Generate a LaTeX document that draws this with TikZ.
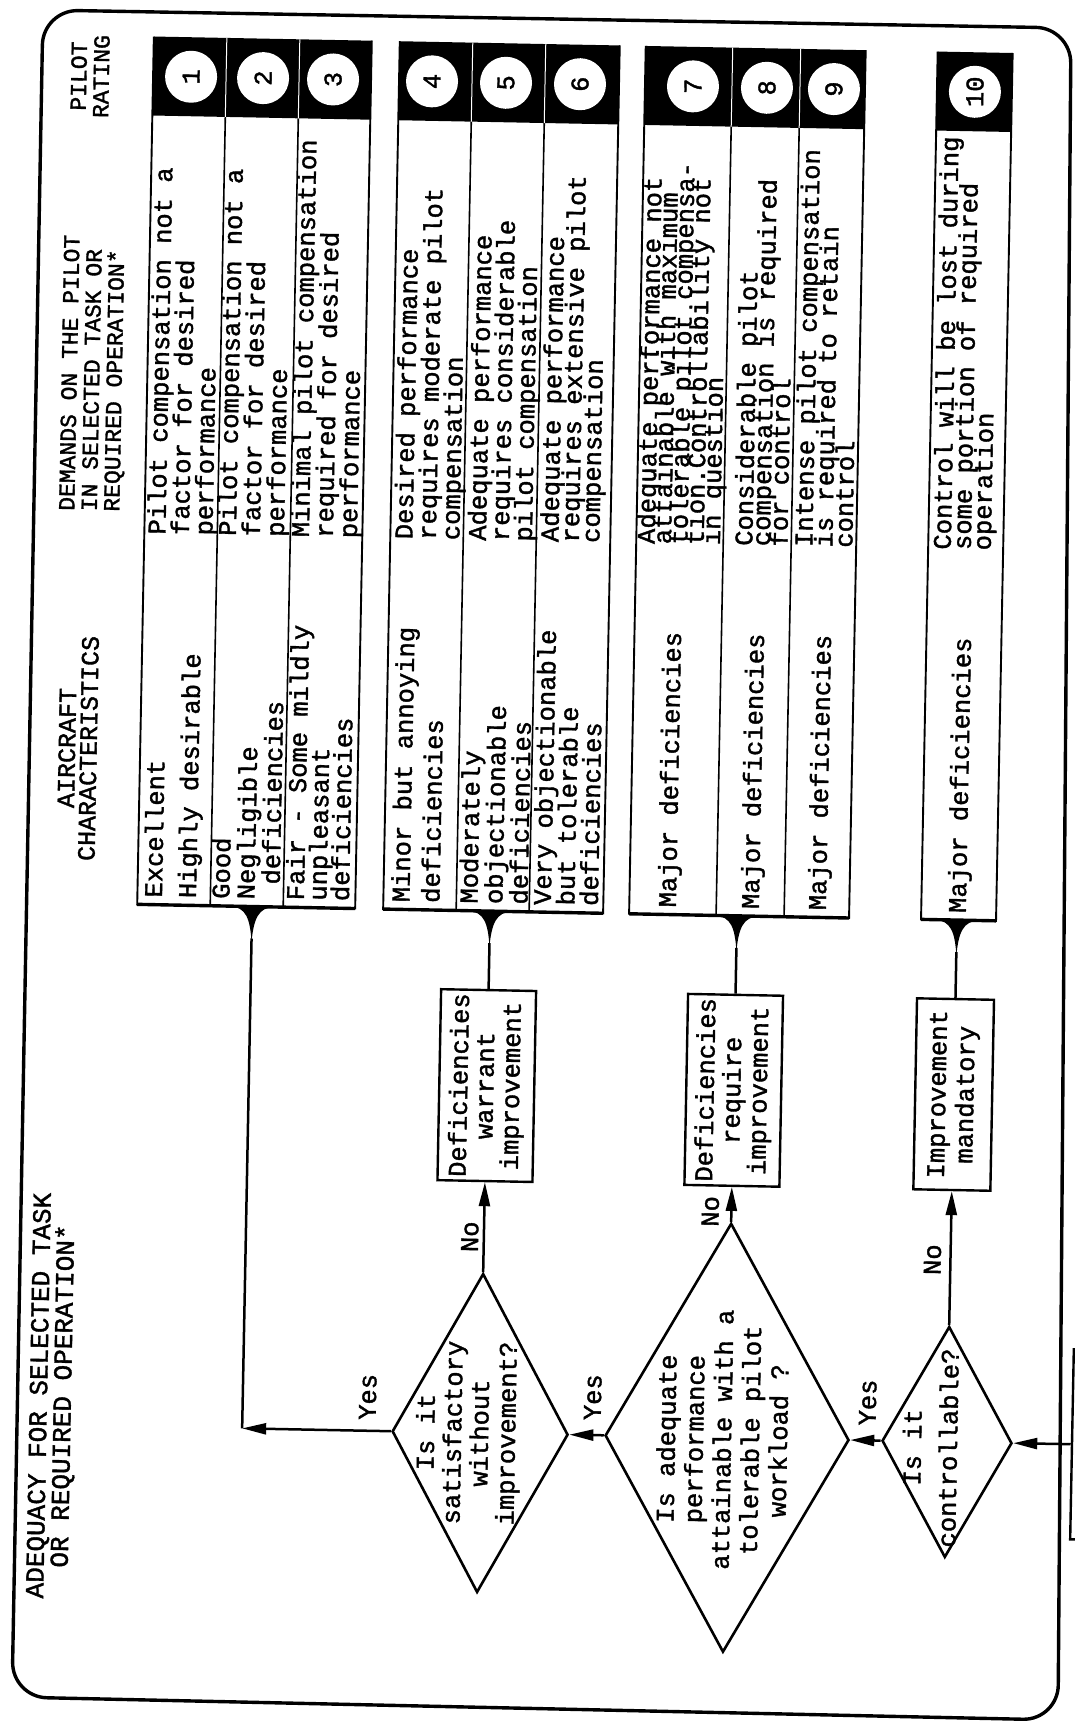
\documentclass[tikz,border=0pt]{standalone}
\usepackage{fontspec}
\usepackage{tikz}
\usetikzlibrary{positioning,shapes.geometric,arrows.meta}
\newfontfamily\typew{Liberation Mono}[FakeBold=1.5]
\newcommand{\cellfont}[1]{\typew\fontsize{25.5pt}{#1}\selectfont\lineskiplimit=-100pt\lineskip=0pt}
\tikzstyle{link}=[-, line width=2.5pt]
\tikzstyle{flow}=[-{Triangle[length=24pt,width=11pt]}, line width=2.5pt]
\tikzstyle{txt}=[rotate=90, inner sep=0pt, align=left, font=\cellfont{23pt}]
\tikzstyle{head}=[rotate=90, inner sep=0pt, font=\typew\fontsize{23pt}{22.5pt}\selectfont]
\tikzstyle{ask}=[diamond, draw, line width=2.6pt, inner sep=0pt]
\tikzstyle{verdict}=[rectangle, draw, line width=2.4pt, rotate=90, inner sep=0pt, align=center, minimum width=191pt]
\tikzstyle{rate}=[circle, fill=white, minimum size=52pt, inner sep=0pt, rotate=90, font=\cellfont{26pt}]
\tikzstyle{groupbox}=[line width=1.9pt]
\tikzstyle{rowline}=[line width=1.6pt]

\begin{document}
\begin{tikzpicture}[x=1pt, y=-1pt]
\useasboundingbox (0,0) rectangle (1075,1733);
\draw[line width=3.4pt, rounded corners=35pt] (43,10) -- (1071,28) -- (1058,1720) -- (12,1697) -- cycle;
\begin{scope}[rotate around={-1.1:(537,866)}, transform shape]

\node[head, align=center] (rating) at (75,85) {PILOT\\RATING};
\node[head, align=left, anchor=west] (demands) at (84.5,520) {DEMANDS ON THE PILOT\\IN SELECTED TASK OR\\REQUIRED OPERATION*};
\node[head, align=center, font=\typew\fontsize{25pt}{21.5pt}\selectfont] (aircraft) at (75.5,757) {AIRCRAFT\\CHARACTERISTICS};
\node[txt, align=center, font=\typew\fontsize{26pt}{24pt}\selectfont] (title) at (63,1405) {ADEQUACY FOR SELECTED TASK\\OR REQUIRED OPERATION*};

\fill (138,44) rectangle (356,123);
\draw[groupbox] (138,44) -- (138,912) -- (356,912) -- (356,44);
\draw[line width=3.4pt] (138,912) -- (356,912);
\draw[rowline] (211,123) -- (211,912);
\draw[rowline] (284,123) -- (284,912);
\draw[white, line width=1pt] (211,44) -- (211,123);
\draw[white, line width=1pt] (284,44) -- (284,123);
\node[rate] (r1) at (176,83.5) {1};
\node[rate] (r2) at (248,83.5) {2};
\node[rate] (r3) at (318,83.5) {3};

\fill (384,44) rectangle (604,123);
\draw[groupbox] (384,44) -- (384,912) -- (604,912) -- (604,44);
\draw[line width=3.4pt] (384,912) -- (604,912);
\draw[rowline] (457,123) -- (457,912);
\draw[rowline] (530,123) -- (530,912);
\draw[white, line width=1pt] (457,44) -- (457,123);
\draw[white, line width=1pt] (530,44) -- (530,123);
\node[rate] (r4) at (417,83.5) {4};
\node[rate] (r5) at (491,83.5) {5};
\node[rate] (r6) at (565,83.5) {6};

\fill (630,44) rectangle (850,123);
\draw[groupbox] (630,44) -- (630,912) -- (850,912) -- (850,44);
\draw[line width=3.4pt] (630,912) -- (850,912);
\draw[rowline] (717,123) -- (717,912);
\draw[rowline] (785,123) -- (785,912);
\draw[white, line width=1pt] (717,44) -- (717,123);
\draw[white, line width=1pt] (785,44) -- (785,123);
\node[rate] (r7) at (678,83.5) {7};
\node[rate] (r8) at (752,83.5) {8};
\node[rate] (r9) at (819,83.5) {9};

\fill (922,44) rectangle (997,123);
\draw[groupbox] (922,44) -- (922,912) -- (997,912) -- (997,44);
\draw[line width=3.4pt] (922,912) -- (997,912);
\node[rate] (r10) at (960,83.5) {10};

\node[txt, anchor=west, font=\cellfont{23.5pt}] (d1) at (176,542) {Pilot compensation not a\\factor for desired\\performance};
\node[txt, anchor=west, font=\cellfont{24pt}] (d2) at (247,542) {Pilot compensation not a\\factor for desired\\performance};
\node[txt, anchor=west, font=\cellfont{24pt}] (d3) at (320,542) {Minimal pilot compensation\\required for desired\\performance};
\node[txt, anchor=west, font=\cellfont{23.5pt}] (d4) at (423,542) {Desired performance\\requires moderate pilot\\compensation};
\node[txt, anchor=west, font=\cellfont{23pt}] (d5) at (496,542) {Adequate performance\\requires considerable\\pilot compensation};
\node[txt, anchor=west, font=\cellfont{20.5pt}] (d6) at (566,542) {Adequate performance\\requires extensive pilot\\compensation};
\node[txt, anchor=west, font=\cellfont{16.3pt}] (d7) at (674.5,542) {Adequate performance not\\attainable with maximum\\tolerable pilot compensa-\\tion.Controllability not\\in question};
\node[txt, anchor=west, font=\cellfont{17.5pt}] (d8) at (754.5,542) {Considerable pilot\\compensation is required\\for control};
\node[txt, anchor=west, font=\cellfont{20pt}] (d9) at (817,542) {Intense pilot compensation\\is required to retain\\control};
\node[txt, anchor=west, font=\cellfont{20pt}] (d10) at (958,542) {Control will be lost during\\some portion of required\\operation};

\node[txt, anchor=west, font=\cellfont{34pt}] (a1) at (173,905) {Excellent\\Highly desirable};
\node[txt, anchor=west, font=\cellfont{25pt}] (a2) at (246,905) {Good\\Negligible\\~deficiencies};
\node[txt, anchor=west, font=\cellfont{22.5pt}] (a3) at (318,905) {Fair - Some mildly\\unpleasant\\deficiencies};
\node[txt, anchor=west, font=\cellfont{30pt}] (a4) at (416,905) {Minor but annoying\\deficiencies};
\node[txt, anchor=west, font=\cellfont{25pt}] (a5) at (494,905) {Moderately\\objectionable\\deficiencies};
\node[txt, anchor=west, font=\cellfont{23.5pt}] (a6) at (566,905) {Very objectionable\\but tolerable\\deficiencies};
\node[txt, anchor=west] (a7) at (670,905) {Major deficiencies};
\node[txt, anchor=west] (a8) at (753,905) {Major deficiencies};
\node[txt, anchor=west] (a9) at (820,905) {Major deficiencies};
\node[txt, anchor=west] (a10) at (960,905) {Major deficiencies};

\coordinate (f1) at (253,944);
\coordinate (f2) at (491,944);
\coordinate (f3) at (738,944);
\coordinate (f4) at (958,944);
\fill (231,912) .. controls (247,913) and (251,924) .. (253,947) .. controls (255,924) and (259,913) .. (275,912) -- cycle;
\fill (469,912) .. controls (485,913) and (489,924) .. (491,947) .. controls (493,924) and (497,913) .. (513,912) -- cycle;
\fill (716,912) .. controls (732,913) and (736,924) .. (738,947) .. controls (740,924) and (744,913) .. (760,912) -- cycle;
\fill (936,912) .. controls (952,913) and (956,924) .. (958,947) .. controls (960,924) and (964,913) .. (980,912) -- cycle;

\node[ask, minimum width=176pt, minimum height=319pt] (A) at (491,1434) {};
\node[txt, align=center, font=\cellfont{27pt}] (Aq) at (479,1434) {Is it\\satisfactory\\without\\improvement?};
\node[ask, minimum width=244pt, minimum height=429pt] (B) at (738,1434) {};
\node[txt, align=center, font=\cellfont{28pt}] (Bq) at (733,1436) {Is adequate\\performance\\attainable with a\\tolerable pilot\\workload ?};
\node[ask, minimum width=130pt, minimum height=231pt] (C) at (958,1434) {};
\node[txt, align=center, font=\cellfont{36pt}] (Cq) at (941,1440) {Is it\\controllable?};

\node[verdict, minimum height=95pt, font=\cellfont{26pt}] (D1) at (491,1086.5) {Deficiencies\\warrant\\improvement};
\node[verdict, minimum height=95pt, font=\cellfont{26.5pt}] (D2) at (738,1086.5) {Deficiencies\\require\\improvement};
\node[verdict, minimum height=77pt, font=\cellfont{28pt}] (D3) at (958,1086.5) {Improvement\\mandatory};
\node[draw, line width=2.4pt, minimum width=100pt, minimum height=190pt] (P) at (1133,1434) {};

\coordinate (c1) at (253,1434);
\draw[flow] (A.west) -- (c1);
\draw[link] (c1) -- (f1);
\draw[flow] (A.north) -- (D1.west);
\draw[link] (D1.east) -- (f2);
\draw[flow] (B.west) -- (A.east);
\draw[flow] (B.north) -- (D2.west);
\draw[link] (D2.east) -- (f3);
\draw[flow] (C.west) -- (B.east);
\draw[flow] (C.north) -- (D3.west);
\draw[link] (D3.east) -- (f4);
\draw[flow] (P) -- (C.east);

\node[txt] (yes1) at (378,1400) {Yes};
\node[txt] (no1) at (477,1238) {No};
\node[txt] (yes2) at (603,1396) {Yes};
\node[txt] (no2) at (717,1208) {No};
\node[txt] (yes3) at (878,1396) {Yes};
\node[txt] (no3) at (940,1252) {No};
\end{scope}
\end{tikzpicture}
\end{document}
